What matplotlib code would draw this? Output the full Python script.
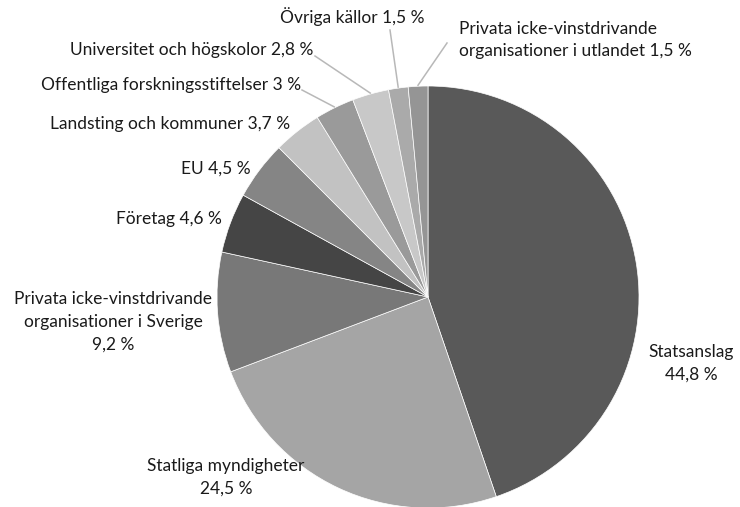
import numpy as np
import matplotlib.pyplot as plt

# -- data --
labels = [
    "Statsanslag\n44,8 %",
    "Statliga myndigheter\n24,5 %",
    "Privata icke-vinstdrivande\norganisationer i Sverige\n9,2 %",
    "Företag 4,6 %",
    "EU 4,5 %",
    "Landsting och kommuner 3,7 %",
    "Offentliga forskningsstiftelser 3 %",
    "Universitet och högskolor 2,8 %",
    "Övriga källor 1,5 %",
    "Privata icke-vinstdrivande\norganisationer i utlandet 1,5 %",
]
shares = [44.8, 24.5, 9.2, 4.6, 4.5, 3.7, 3.0, 2.8, 1.5, 1.5]
colors = ["#595959", "#a5a5a5", "#787878", "#454545", "#858585",
          "#c2c2c2", "#9a9a9a", "#c8c8c8", "#aaaaaa", "#959595"]

W, H = 740, 507
# label placement in pixels from top-left: (x, y, ha, leader?)
label_pos = [
    (691, 363, "center", False),
    (226, 477, "center", False),
    (113, 322, "center", False),
    (222, 219, "right", False),
    (251, 169, "right", False),
    (290, 124, "right", False),
    (301, 85, "right", True),
    (313, 50, "right", True),
    (424, 17, "right", True),
    (459, 40, "left", True),
]
leader_start = {6: (302, 90), 7: (315, 56), 8: (390, 30), 9: (447, 43)}

plt.rcParams["font.family"] = ["Lato", "DejaVu Sans"]
fig = plt.figure(figsize=(W / 100, H / 100), dpi=100)
ax = fig.add_axes([0, 0, 1, 1])

cx, cy, R = 428, 297, 211
wedges, _ = ax.pie(
    shares,
    colors=colors,
    startangle=90,
    counterclock=False,
    center=(cx, H - cy),
    radius=R,
    wedgeprops=dict(edgecolor="white", linewidth=0.5),
)
ax.set_xlim(0, W)
ax.set_ylim(0, H)
ax.set_aspect("equal")
ax.axis("off")

for i, (w, lab) in enumerate(zip(wedges, labels)):
    x, y, ha, lead = label_pos[i]
    ax.text(x, H - y, lab, ha=ha, va="center", fontsize=12.5,
            color="#1a1a1a", linespacing=1.5)
    if lead:
        ang = np.deg2rad((w.theta1 + w.theta2) / 2.0)
        ex = cx + (R + 1) * np.cos(ang)
        ey = (H - cy) + (R + 1) * np.sin(ang)
        sx, sy = leader_start[i]
        ax.plot([sx, ex], [H - sy, ey], color="#b8b8b8", linewidth=1.1)

fig.savefig("out.png", dpi=100)
